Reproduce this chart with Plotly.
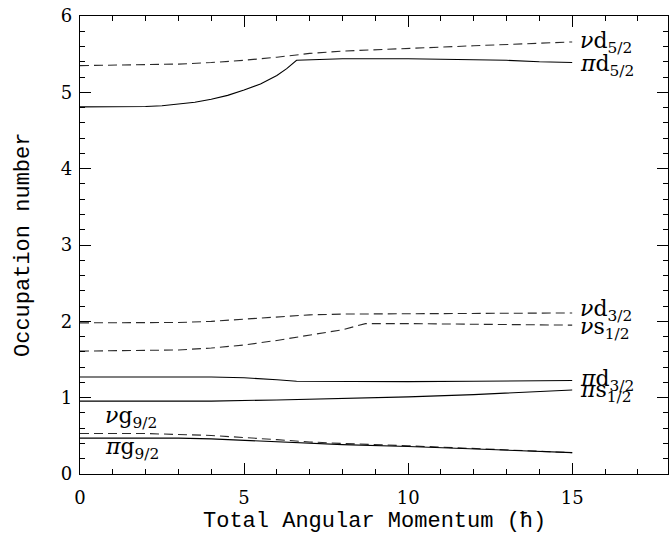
import plotly.graph_objects as go

# --- data ---
x_nd52 = [0, 2, 3, 4, 5, 6, 6.6, 7, 8, 9, 10, 12, 15]
y_nd52 = [5.35, 5.36, 5.37, 5.39, 5.42, 5.46, 5.49, 5.51, 5.54, 5.56, 5.58, 5.61, 5.66]

x_pd52 = [0, 1, 2, 2.5, 3, 3.5, 4, 4.5, 5, 5.5, 6, 6.3, 6.6, 8, 10, 12, 13, 14, 15]
y_pd52 = [4.81, 4.81, 4.815, 4.825, 4.845, 4.87, 4.91, 4.96, 5.03, 5.11, 5.22, 5.31, 5.42, 5.44, 5.44, 5.43, 5.42, 5.40, 5.39]

x_nd32 = [0, 2, 3, 4, 5, 6, 7, 8, 10, 15]
y_nd32 = [1.98, 1.98, 1.985, 2.0, 2.03, 2.06, 2.085, 2.095, 2.1, 2.11]

x_ns12 = [0, 2, 3, 4, 5, 6, 7, 8, 8.7, 10, 15]
y_ns12 = [1.61, 1.615, 1.625, 1.65, 1.69, 1.75, 1.82, 1.89, 1.97, 1.97, 1.95]

x_pd32 = [0, 4, 5, 5.5, 6, 6.6, 8, 10, 12, 15]
y_pd32 = [1.27, 1.27, 1.26, 1.25, 1.235, 1.215, 1.21, 1.21, 1.215, 1.225]

x_ps12 = [0, 4, 6, 8, 10, 12, 14, 15]
y_ps12 = [0.955, 0.955, 0.97, 0.99, 1.01, 1.04, 1.075, 1.10]

x_ng92 = [0, 2, 4, 5, 6, 7, 8, 10, 12, 15]
y_ng92 = [0.53, 0.53, 0.505, 0.48, 0.45, 0.42, 0.40, 0.37, 0.335, 0.28]

x_pg92 = [0, 3, 4, 5, 6, 7, 8, 10, 12, 15]
y_pg92 = [0.47, 0.47, 0.46, 0.44, 0.42, 0.40, 0.385, 0.36, 0.33, 0.28]

x_ticks = [0, 5, 10, 15]
y_ticks = [0, 1, 2, 3, 4, 5, 6]

series = [
    (x_nd52, y_nd52, "dash"), (x_pd52, y_pd52, "solid"),
    (x_nd32, y_nd32, "dash"), (x_ns12, y_ns12, "dash"),
    (x_pd32, y_pd32, "solid"), (x_ps12, y_ps12, "solid"),
    (x_ng92, y_ng92, "dash"), (x_pg92, y_pg92, "solid"),
]

fig = go.Figure()
for xs, ys, st in series:
    fig.add_trace(go.Scatter(
        x=xs, y=ys, mode="lines", line_shape="linear",
        line=dict(color="#000000" if st == "solid" else "#2a2a2a", width=1.1,
                  dash="solid" if st == "solid" else "9px,5px"),
        showlegend=False, hoverinfo="skip"))

lab_font = dict(family="DejaVu Serif", size=22, color="black")
# (text, x, y of main letters)
labels = [
    ("<i>ν</i>d<sub>5/2</sub>", 15.18, 5.66),
    ("<i>π</i>d<sub>5/2</sub>", 15.18, 5.36),
    ("<i>ν</i>d<sub>3/2</sub>", 15.18, 2.155),
    ("<i>ν</i>s<sub>1/2</sub>", 15.18, 1.92),
    ("<i>π</i>d<sub>3/2</sub>", 15.18, 1.24),
    ("<i>π</i>s<sub>1/2</sub>", 15.18, 1.09),
    ("<i>ν</i>g<sub>9/2</sub>", 0.7, 0.75),
    ("<i>π</i>g<sub>9/2</sub>", 0.7, 0.35),
]
for t, xx, yy in labels:
    fig.add_annotation(x=xx, y=yy, text=t, showarrow=False, xanchor="left",
                       yanchor="middle", yshift=-1, font=lab_font)

title_font = dict(family="Liberation Mono", size=22, color="black")
fig.add_annotation(xref="paper", yref="paper", x=0.5, y=0, yshift=-47,
                   text="Total Angular Momentum (ħ)", showarrow=False,
                   xanchor="center", yanchor="middle", font=title_font)
fig.add_annotation(xref="paper", yref="paper", x=0, y=0.5, xshift=-57,
                   text="Occupation number", showarrow=False, textangle=-90,
                   xanchor="center", yanchor="middle", font=title_font)

axis_common = dict(showline=True, linecolor="black", linewidth=1.2, mirror="ticks",
                   ticks="inside", tickcolor="black", tickwidth=1, ticklen=11,
                   showgrid=False, automargin=False,
                   tickfont=dict(family="DejaVu Serif", size=18, color="black"))

fig.update_xaxes(range=[0, 17.92], tickvals=x_ticks, zeroline=False,
                 minor=dict(dtick=1, ticks="inside", ticklen=5, tickcolor="black", showgrid=False),
                 ticklabelstandoff=7,
                 **axis_common)
fig.update_yaxes(range=[0, 6], tickvals=y_ticks,
                 zeroline=True, zerolinecolor="#555555", zerolinewidth=2,
                 minor=dict(dtick=0.2, ticks="inside", ticklen=5, tickcolor="black", showgrid=False),
                 ticklabelstandoff=3,
                 **axis_common)

fig.update_layout(width=669, height=535, plot_bgcolor="white", paper_bgcolor="white",
                  margin=dict(l=80, r=1, t=16, b=61), autosize=False)

fig.write_html("out.html", config={"displayModeBar": False},
               post_script="document.body.style.margin='0';document.body.style.overflow='hidden';")
